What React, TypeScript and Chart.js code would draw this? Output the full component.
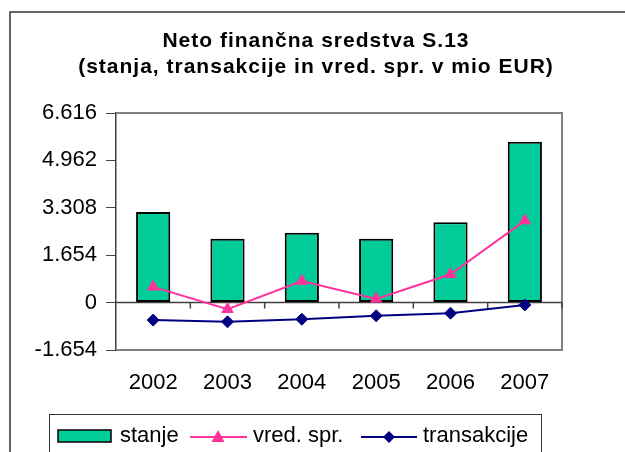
import React, { useEffect, useRef } from 'react';
import { Chart, registerables } from 'chart.js';

Chart.register(...registerables);

const categories = ['2002', '2003', '2004', '2005', '2006', '2007'];
const stanje = [3160, 2230, 2440, 2230, 2800, 5610];
const vredSpr = [550, -230, 750, 130, 990, 2860];
const transakcije = [-610, -670, -580, -460, -370, -80];
const yTicks = [-1654, 0, 1654, 3308, 4962, 6616];
const titleLines = ['Neto finančna sredstva S.13', '(stanja, transakcije in vred. spr. v mio EUR)'];
const seriesNames = ['stanje', 'vred. spr.', 'transakcije'];

const TEAL = '#00CC99';
const PINK = '#FF3399';
const NAVY = '#000080';
const FONT = '"Liberation Sans", Arial, sans-serif';

function fmt(v: number): string {
  const s = Math.abs(Math.round(v)).toString().replace(/\B(?=(\d{3})+(?!\d))/g, '.');
  return (v < 0 ? '-' : '') + s;
}

const decorPlugin = {
  id: 'decor',
  beforeDatasetsDraw(chart: any) {
    const { ctx, chartArea } = chart;
    const { left, top, right, bottom } = chartArea;
    ctx.save();
    ctx.strokeStyle = '#808080';
    ctx.lineWidth = 2;
    ctx.beginPath();
    ctx.moveTo(left, top);
    ctx.lineTo(right, top);
    ctx.lineTo(right, bottom);
    ctx.lineTo(left, bottom);
    ctx.stroke();
    const y0 = chart.scales.y.getPixelForValue(0);
    ctx.strokeStyle = '#404040';
    ctx.lineWidth = 1.5;
    ctx.beginPath();
    ctx.moveTo(left, y0);
    ctx.lineTo(right, y0);
    const n = categories.length;
    for (let k = 1; k <= n; k++) {
      const x = left + (k * (right - left)) / n;
      ctx.moveTo(x, y0);
      ctx.lineTo(x, y0 + 6);
    }
    ctx.stroke();
    ctx.restore();
  },
  afterDraw(chart: any) {
    const ctx = chart.ctx;
    ctx.save();
    ctx.strokeStyle = '#333333';
    ctx.lineWidth = 1.5;
    ctx.beginPath();
    ctx.moveTo(10, 452);
    ctx.lineTo(10, 12);
    ctx.lineTo(625, 12);
    ctx.stroke();
    ctx.fillStyle = '#000';
    ctx.font = `bold 21px ${FONT}`;
    ctx.textAlign = 'center';
    ctx.textBaseline = 'alphabetic';
    try { (ctx as any).letterSpacing = '1px'; } catch (e) {}
    ctx.fillText(titleLines[0], 316, 47);
    ctx.fillText(titleLines[1], 316, 73);
    try { (ctx as any).letterSpacing = '0px'; } catch (e) {}
    ctx.strokeStyle = '#333333';
    ctx.lineWidth = 1;
    ctx.strokeRect(49.5, 414.5, 492, 50);
    ctx.font = `22px ${FONT}`;
    ctx.textAlign = 'left';
    ctx.fillStyle = TEAL;
    ctx.fillRect(58, 430, 53, 12);
    ctx.strokeStyle = '#000';
    ctx.lineWidth = 1.5;
    ctx.strokeRect(58, 430, 53, 12);
    ctx.fillStyle = '#000';
    ctx.fillText(seriesNames[0], 120, 442);
    ctx.strokeStyle = PINK;
    ctx.lineWidth = 2;
    ctx.beginPath();
    ctx.moveTo(190, 437);
    ctx.lineTo(247, 437);
    ctx.stroke();
    ctx.fillStyle = PINK;
    ctx.beginPath();
    ctx.moveTo(218, 430);
    ctx.lineTo(224.5, 442);
    ctx.lineTo(211.5, 442);
    ctx.closePath();
    ctx.fill();
    ctx.fillStyle = '#000';
    ctx.fillText(seriesNames[1], 253, 442);
    ctx.strokeStyle = NAVY;
    ctx.beginPath();
    ctx.moveTo(361, 437);
    ctx.lineTo(417, 437);
    ctx.stroke();
    ctx.fillStyle = NAVY;
    ctx.beginPath();
    ctx.moveTo(389, 431);
    ctx.lineTo(395, 437);
    ctx.lineTo(389, 443);
    ctx.lineTo(383, 437);
    ctx.closePath();
    ctx.fill();
    ctx.fillStyle = '#000';
    ctx.fillText(seriesNames[2], 423, 442);
    ctx.restore();
  },
};

export default function App() {
  const ref = useRef<HTMLCanvasElement>(null);
  useEffect(() => {
    if (!ref.current) return;
    const chart = new Chart(ref.current, {
      type: 'bar',
      data: {
        labels: categories,
        datasets: [
          {
            type: 'bar',
            label: seriesNames[0],
            data: stanje,
            backgroundColor: TEAL,
            borderColor: '#000',
            borderWidth: 2,
            borderSkipped: false,
            barPercentage: 0.46,
            categoryPercentage: 1,
            order: 10,
          } as any,
          {
            type: 'line',
            label: seriesNames[1],
            data: vredSpr,
            borderColor: PINK,
            backgroundColor: PINK,
            borderWidth: 2,
            pointStyle: 'triangle',
            pointRadius: 6.5,
            pointBorderWidth: 1,
            pointBackgroundColor: PINK,
            pointBorderColor: PINK,
            tension: 0,
            order: 2,
          } as any,
          {
            type: 'line',
            label: seriesNames[2],
            data: transakcije,
            borderColor: NAVY,
            backgroundColor: NAVY,
            borderWidth: 2,
            pointStyle: 'rectRot',
            pointRadius: 6,
            pointBorderWidth: 1,
            pointBackgroundColor: NAVY,
            pointBorderColor: NAVY,
            tension: 0,
            order: 1,
          } as any,
        ],
      },
      options: {
        responsive: false,
        animation: false,
        devicePixelRatio: 1,
        layout: { padding: { left: 0, top: 113, right: 63, bottom: 62 } },
        plugins: {
          legend: { display: false },
          title: { display: false },
          tooltip: { enabled: false },
        },
        scales: {
          x: {
            grid: { display: false, drawTicks: false },
            border: { display: false },
            ticks: {
              color: '#000',
              font: { family: FONT, size: 22 },
              padding: 20,
              maxRotation: 0,
            },
            afterFit: (s: any) => { s.height = 40; },
          },
          y: {
            min: -1654,
            max: 6616,
            afterBuildTicks: (s: any) => { s.ticks = yTicks.map((v) => ({ value: v })); },
            grid: { drawOnChartArea: false, drawTicks: true, tickLength: 10, color: '#404040', lineWidth: 1 },
            border: { display: true, color: '#404040', width: 1.5 },
            ticks: {
              color: '#000',
              font: { family: FONT, size: 22 },
              padding: 9,
              callback: (v: any) => fmt(Number(v)),
            },
            afterFit: (s: any) => { s.width = 116; },
          },
        },
      },
      plugins: [decorPlugin],
    });
    return () => chart.destroy();
  }, []);
  return (
    <div style={{ position: 'absolute', left: 0, top: 0, width: 625, height: 452, background: '#fff' }}>
      <canvas ref={ref} width={625} height={452} />
    </div>
  );
}
